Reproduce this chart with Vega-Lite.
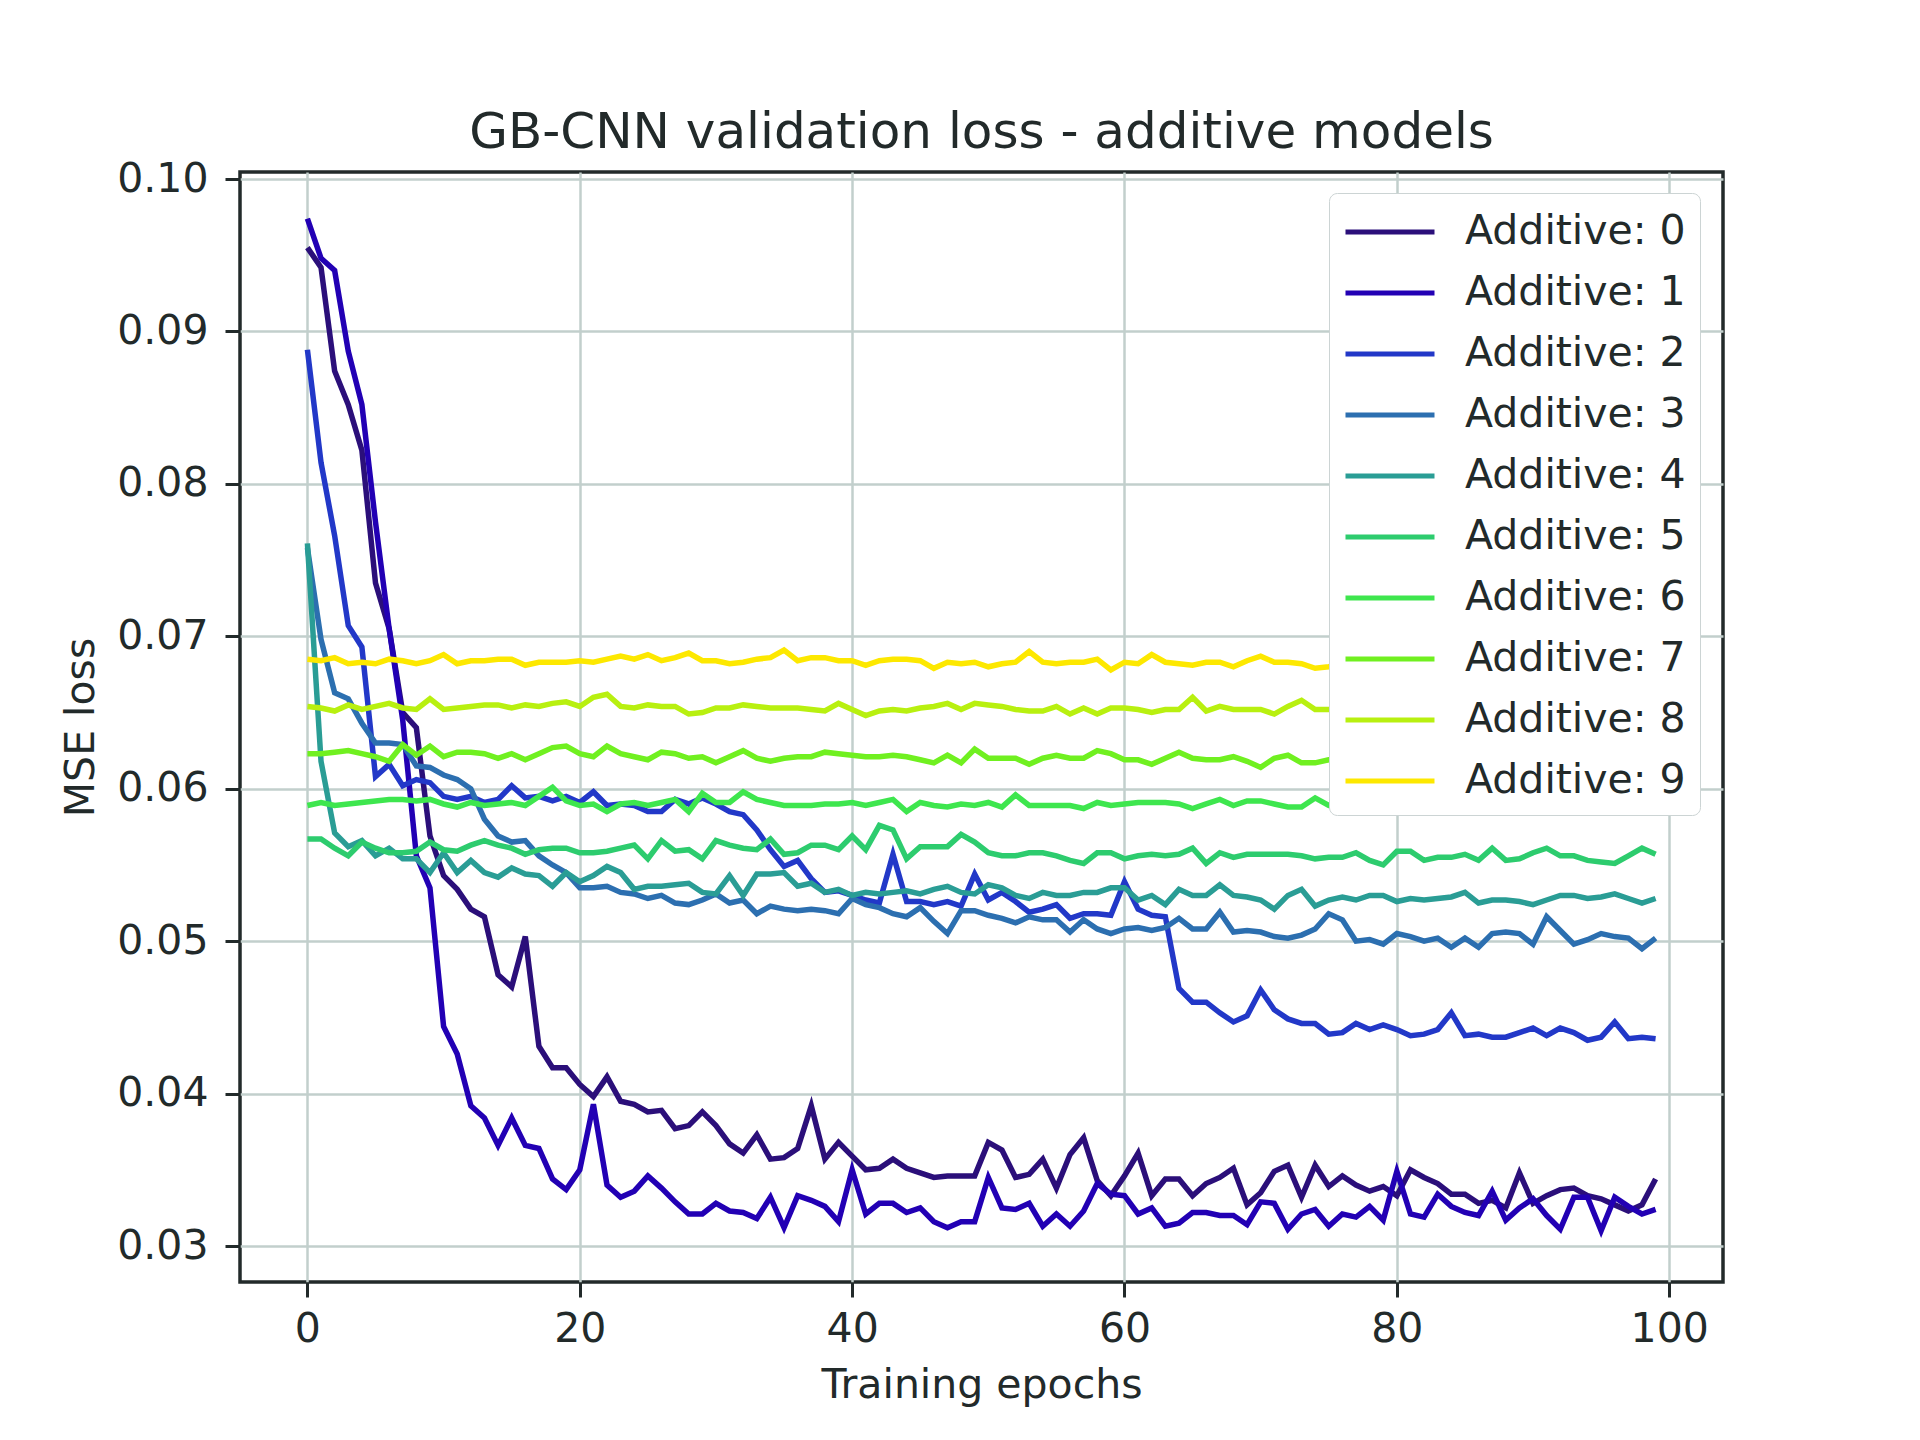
{
"$schema":"https://vega.github.io/schema/vega-lite/v6.json",
"width":1483,"height":1110,
"autosize":{"type":"none"},
"padding":{"left":240,"top":172,"right":197,"bottom":158},
"background":"white",
"title":{"text":"GB-CNN validation loss - additive models","fontSize":50,"font":"DejaVu Sans","fontWeight":"normal","color":"#222a2a","anchor":"middle","offset":27,"baseline":"alphabetic","dy":67},
"config":{
"view":{"stroke":"#222a2a","strokeWidth":3.5},
"axis":{"domain":false,"grid":true,"gridColor":"#c2cfcc","gridWidth":2.5,"tickColor":"#222a2a","tickWidth":3,"tickSize":15,"labelFont":"DejaVu Sans","labelFontSize":41,"labelColor":"#222a2a","titleFont":"DejaVu Sans","titleFontSize":41,"titleFontWeight":"normal","titleColor":"#222a2a"}
},
"data":{"values":[
{"x":0,"m":0,"y":0.0955},{"x":1,"m":0,"y":0.0942},{"x":2,"m":0,"y":0.0874},{"x":3,"m":0,"y":0.0852},{"x":4,"m":0,"y":0.0822},{"x":5,"m":0,"y":0.0735},{"x":6,"m":0,"y":0.0705},{"x":7,"m":0,"y":0.0650},{"x":8,"m":0,"y":0.0640},{"x":9,"m":0,"y":0.0569},
{"x":10,"m":0,"y":0.0543},{"x":11,"m":0,"y":0.0534},{"x":12,"m":0,"y":0.0521},{"x":13,"m":0,"y":0.0516},{"x":14,"m":0,"y":0.0478},{"x":15,"m":0,"y":0.0470},{"x":16,"m":0,"y":0.0503},{"x":17,"m":0,"y":0.0431},{"x":18,"m":0,"y":0.0417},{"x":19,"m":0,"y":0.0417},
{"x":20,"m":0,"y":0.0406},{"x":21,"m":0,"y":0.0398},{"x":22,"m":0,"y":0.0411},{"x":23,"m":0,"y":0.0395},{"x":24,"m":0,"y":0.0393},{"x":25,"m":0,"y":0.0388},{"x":26,"m":0,"y":0.0389},{"x":27,"m":0,"y":0.0377},{"x":28,"m":0,"y":0.0379},{"x":29,"m":0,"y":0.0388},
{"x":30,"m":0,"y":0.0379},{"x":31,"m":0,"y":0.0367},{"x":32,"m":0,"y":0.0361},{"x":33,"m":0,"y":0.0373},{"x":34,"m":0,"y":0.0357},{"x":35,"m":0,"y":0.0358},{"x":36,"m":0,"y":0.0364},{"x":37,"m":0,"y":0.0392},{"x":38,"m":0,"y":0.0357},{"x":39,"m":0,"y":0.0368},
{"x":40,"m":0,"y":0.0359},{"x":41,"m":0,"y":0.0350},{"x":42,"m":0,"y":0.0351},{"x":43,"m":0,"y":0.0357},{"x":44,"m":0,"y":0.0351},{"x":45,"m":0,"y":0.0348},{"x":46,"m":0,"y":0.0345},{"x":47,"m":0,"y":0.0346},{"x":48,"m":0,"y":0.0346},{"x":49,"m":0,"y":0.0346},
{"x":50,"m":0,"y":0.0368},{"x":51,"m":0,"y":0.0363},{"x":52,"m":0,"y":0.0345},{"x":53,"m":0,"y":0.0347},{"x":54,"m":0,"y":0.0357},{"x":55,"m":0,"y":0.0338},{"x":56,"m":0,"y":0.0360},{"x":57,"m":0,"y":0.0371},{"x":58,"m":0,"y":0.0343},{"x":59,"m":0,"y":0.0333},
{"x":60,"m":0,"y":0.0346},{"x":61,"m":0,"y":0.0361},{"x":62,"m":0,"y":0.0333},{"x":63,"m":0,"y":0.0344},{"x":64,"m":0,"y":0.0344},{"x":65,"m":0,"y":0.0333},{"x":66,"m":0,"y":0.0341},{"x":67,"m":0,"y":0.0345},{"x":68,"m":0,"y":0.0351},{"x":69,"m":0,"y":0.0327},
{"x":70,"m":0,"y":0.0335},{"x":71,"m":0,"y":0.0349},{"x":72,"m":0,"y":0.0353},{"x":73,"m":0,"y":0.0332},{"x":74,"m":0,"y":0.0353},{"x":75,"m":0,"y":0.0339},{"x":76,"m":0,"y":0.0346},{"x":77,"m":0,"y":0.0340},{"x":78,"m":0,"y":0.0336},{"x":79,"m":0,"y":0.0339},
{"x":80,"m":0,"y":0.0333},{"x":81,"m":0,"y":0.0350},{"x":82,"m":0,"y":0.0345},{"x":83,"m":0,"y":0.0341},{"x":84,"m":0,"y":0.0334},{"x":85,"m":0,"y":0.0334},{"x":86,"m":0,"y":0.0328},{"x":87,"m":0,"y":0.0330},{"x":88,"m":0,"y":0.0325},{"x":89,"m":0,"y":0.0348},
{"x":90,"m":0,"y":0.0328},{"x":91,"m":0,"y":0.0333},{"x":92,"m":0,"y":0.0337},{"x":93,"m":0,"y":0.0338},{"x":94,"m":0,"y":0.0333},{"x":95,"m":0,"y":0.0331},{"x":96,"m":0,"y":0.0327},{"x":97,"m":0,"y":0.0323},{"x":98,"m":0,"y":0.0327},{"x":99,"m":0,"y":0.0344},
{"x":0,"m":1,"y":0.0974},{"x":1,"m":1,"y":0.0948},{"x":2,"m":1,"y":0.0940},{"x":3,"m":1,"y":0.0887},{"x":4,"m":1,"y":0.0852},{"x":5,"m":1,"y":0.0775},{"x":6,"m":1,"y":0.0705},{"x":7,"m":1,"y":0.0645},{"x":8,"m":1,"y":0.0556},{"x":9,"m":1,"y":0.0535},
{"x":10,"m":1,"y":0.0444},{"x":11,"m":1,"y":0.0426},{"x":12,"m":1,"y":0.0392},{"x":13,"m":1,"y":0.0384},{"x":14,"m":1,"y":0.0366},{"x":15,"m":1,"y":0.0384},{"x":16,"m":1,"y":0.0366},{"x":17,"m":1,"y":0.0364},{"x":18,"m":1,"y":0.0344},{"x":19,"m":1,"y":0.0337},
{"x":20,"m":1,"y":0.0350},{"x":21,"m":1,"y":0.0393},{"x":22,"m":1,"y":0.0340},{"x":23,"m":1,"y":0.0332},{"x":24,"m":1,"y":0.0336},{"x":25,"m":1,"y":0.0346},{"x":26,"m":1,"y":0.0338},{"x":27,"m":1,"y":0.0329},{"x":28,"m":1,"y":0.0321},{"x":29,"m":1,"y":0.0321},
{"x":30,"m":1,"y":0.0328},{"x":31,"m":1,"y":0.0323},{"x":32,"m":1,"y":0.0322},{"x":33,"m":1,"y":0.0318},{"x":34,"m":1,"y":0.0332},{"x":35,"m":1,"y":0.0312},{"x":36,"m":1,"y":0.0333},{"x":37,"m":1,"y":0.0330},{"x":38,"m":1,"y":0.0326},{"x":39,"m":1,"y":0.0316},
{"x":40,"m":1,"y":0.0350},{"x":41,"m":1,"y":0.0321},{"x":42,"m":1,"y":0.0328},{"x":43,"m":1,"y":0.0328},{"x":44,"m":1,"y":0.0322},{"x":45,"m":1,"y":0.0325},{"x":46,"m":1,"y":0.0316},{"x":47,"m":1,"y":0.0312},{"x":48,"m":1,"y":0.0316},{"x":49,"m":1,"y":0.0316},
{"x":50,"m":1,"y":0.0345},{"x":51,"m":1,"y":0.0325},{"x":52,"m":1,"y":0.0324},{"x":53,"m":1,"y":0.0328},{"x":54,"m":1,"y":0.0313},{"x":55,"m":1,"y":0.0321},{"x":56,"m":1,"y":0.0313},{"x":57,"m":1,"y":0.0323},{"x":58,"m":1,"y":0.0341},{"x":59,"m":1,"y":0.0334},
{"x":60,"m":1,"y":0.0333},{"x":61,"m":1,"y":0.0321},{"x":62,"m":1,"y":0.0325},{"x":63,"m":1,"y":0.0313},{"x":64,"m":1,"y":0.0315},{"x":65,"m":1,"y":0.0322},{"x":66,"m":1,"y":0.0322},{"x":67,"m":1,"y":0.0320},{"x":68,"m":1,"y":0.0320},{"x":69,"m":1,"y":0.0314},
{"x":70,"m":1,"y":0.0329},{"x":71,"m":1,"y":0.0328},{"x":72,"m":1,"y":0.0311},{"x":73,"m":1,"y":0.0321},{"x":74,"m":1,"y":0.0324},{"x":75,"m":1,"y":0.0313},{"x":76,"m":1,"y":0.0321},{"x":77,"m":1,"y":0.0319},{"x":78,"m":1,"y":0.0326},{"x":79,"m":1,"y":0.0317},
{"x":80,"m":1,"y":0.0349},{"x":81,"m":1,"y":0.0321},{"x":82,"m":1,"y":0.0319},{"x":83,"m":1,"y":0.0334},{"x":84,"m":1,"y":0.0326},{"x":85,"m":1,"y":0.0322},{"x":86,"m":1,"y":0.0320},{"x":87,"m":1,"y":0.0336},{"x":88,"m":1,"y":0.0317},{"x":89,"m":1,"y":0.0325},
{"x":90,"m":1,"y":0.0331},{"x":91,"m":1,"y":0.0320},{"x":92,"m":1,"y":0.0311},{"x":93,"m":1,"y":0.0332},{"x":94,"m":1,"y":0.0332},{"x":95,"m":1,"y":0.0310},{"x":96,"m":1,"y":0.0332},{"x":97,"m":1,"y":0.0326},{"x":98,"m":1,"y":0.0321},{"x":99,"m":1,"y":0.0324},
{"x":0,"m":2,"y":0.0888},{"x":1,"m":2,"y":0.0814},{"x":2,"m":2,"y":0.0766},{"x":3,"m":2,"y":0.0707},{"x":4,"m":2,"y":0.0693},{"x":5,"m":2,"y":0.0608},{"x":6,"m":2,"y":0.0616},{"x":7,"m":2,"y":0.0602},{"x":8,"m":2,"y":0.0606},{"x":9,"m":2,"y":0.0604},
{"x":10,"m":2,"y":0.0595},{"x":11,"m":2,"y":0.0593},{"x":12,"m":2,"y":0.0595},{"x":13,"m":2,"y":0.0591},{"x":14,"m":2,"y":0.0593},{"x":15,"m":2,"y":0.0602},{"x":16,"m":2,"y":0.0594},{"x":17,"m":2,"y":0.0595},{"x":18,"m":2,"y":0.0592},{"x":19,"m":2,"y":0.0595},
{"x":20,"m":2,"y":0.0591},{"x":21,"m":2,"y":0.0598},{"x":22,"m":2,"y":0.0589},{"x":23,"m":2,"y":0.0590},{"x":24,"m":2,"y":0.0589},{"x":25,"m":2,"y":0.0585},{"x":26,"m":2,"y":0.0585},{"x":27,"m":2,"y":0.0593},{"x":28,"m":2,"y":0.0590},{"x":29,"m":2,"y":0.0594},
{"x":30,"m":2,"y":0.0590},{"x":31,"m":2,"y":0.0585},{"x":32,"m":2,"y":0.0583},{"x":33,"m":2,"y":0.0573},{"x":34,"m":2,"y":0.0560},{"x":35,"m":2,"y":0.0549},{"x":36,"m":2,"y":0.0553},{"x":37,"m":2,"y":0.0541},{"x":38,"m":2,"y":0.0532},{"x":39,"m":2,"y":0.0533},
{"x":40,"m":2,"y":0.0530},{"x":41,"m":2,"y":0.0527},{"x":42,"m":2,"y":0.0525},{"x":43,"m":2,"y":0.0557},{"x":44,"m":2,"y":0.0526},{"x":45,"m":2,"y":0.0526},{"x":46,"m":2,"y":0.0524},{"x":47,"m":2,"y":0.0526},{"x":48,"m":2,"y":0.0523},{"x":49,"m":2,"y":0.0544},
{"x":50,"m":2,"y":0.0527},{"x":51,"m":2,"y":0.0532},{"x":52,"m":2,"y":0.0526},{"x":53,"m":2,"y":0.0519},{"x":54,"m":2,"y":0.0521},{"x":55,"m":2,"y":0.0524},{"x":56,"m":2,"y":0.0515},{"x":57,"m":2,"y":0.0518},{"x":58,"m":2,"y":0.0518},{"x":59,"m":2,"y":0.0517},
{"x":60,"m":2,"y":0.0539},{"x":61,"m":2,"y":0.0521},{"x":62,"m":2,"y":0.0517},{"x":63,"m":2,"y":0.0516},{"x":64,"m":2,"y":0.0469},{"x":65,"m":2,"y":0.0460},{"x":66,"m":2,"y":0.0460},{"x":67,"m":2,"y":0.0453},{"x":68,"m":2,"y":0.0447},{"x":69,"m":2,"y":0.0451},
{"x":70,"m":2,"y":0.0468},{"x":71,"m":2,"y":0.0455},{"x":72,"m":2,"y":0.0449},{"x":73,"m":2,"y":0.0446},{"x":74,"m":2,"y":0.0446},{"x":75,"m":2,"y":0.0439},{"x":76,"m":2,"y":0.0440},{"x":77,"m":2,"y":0.0446},{"x":78,"m":2,"y":0.0442},{"x":79,"m":2,"y":0.0445},
{"x":80,"m":2,"y":0.0442},{"x":81,"m":2,"y":0.0438},{"x":82,"m":2,"y":0.0439},{"x":83,"m":2,"y":0.0442},{"x":84,"m":2,"y":0.0453},{"x":85,"m":2,"y":0.0438},{"x":86,"m":2,"y":0.0439},{"x":87,"m":2,"y":0.0437},{"x":88,"m":2,"y":0.0437},{"x":89,"m":2,"y":0.0440},
{"x":90,"m":2,"y":0.0443},{"x":91,"m":2,"y":0.0438},{"x":92,"m":2,"y":0.0443},{"x":93,"m":2,"y":0.0440},{"x":94,"m":2,"y":0.0435},{"x":95,"m":2,"y":0.0437},{"x":96,"m":2,"y":0.0447},{"x":97,"m":2,"y":0.0436},{"x":98,"m":2,"y":0.0437},{"x":99,"m":2,"y":0.0436},
{"x":0,"m":3,"y":0.0758},{"x":1,"m":3,"y":0.0698},{"x":2,"m":3,"y":0.0663},{"x":3,"m":3,"y":0.0659},{"x":4,"m":3,"y":0.0643},{"x":5,"m":3,"y":0.0630},{"x":6,"m":3,"y":0.0630},{"x":7,"m":3,"y":0.0629},{"x":8,"m":3,"y":0.0615},{"x":9,"m":3,"y":0.0614},
{"x":10,"m":3,"y":0.0609},{"x":11,"m":3,"y":0.0606},{"x":12,"m":3,"y":0.0600},{"x":13,"m":3,"y":0.0580},{"x":14,"m":3,"y":0.0569},{"x":15,"m":3,"y":0.0565},{"x":16,"m":3,"y":0.0566},{"x":17,"m":3,"y":0.0556},{"x":18,"m":3,"y":0.0550},{"x":19,"m":3,"y":0.0545},
{"x":20,"m":3,"y":0.0535},{"x":21,"m":3,"y":0.0535},{"x":22,"m":3,"y":0.0536},{"x":23,"m":3,"y":0.0532},{"x":24,"m":3,"y":0.0531},{"x":25,"m":3,"y":0.0528},{"x":26,"m":3,"y":0.0530},{"x":27,"m":3,"y":0.0525},{"x":28,"m":3,"y":0.0524},{"x":29,"m":3,"y":0.0527},
{"x":30,"m":3,"y":0.0531},{"x":31,"m":3,"y":0.0525},{"x":32,"m":3,"y":0.0527},{"x":33,"m":3,"y":0.0518},{"x":34,"m":3,"y":0.0523},{"x":35,"m":3,"y":0.0521},{"x":36,"m":3,"y":0.0520},{"x":37,"m":3,"y":0.0521},{"x":38,"m":3,"y":0.0520},{"x":39,"m":3,"y":0.0518},
{"x":40,"m":3,"y":0.0528},{"x":41,"m":3,"y":0.0524},{"x":42,"m":3,"y":0.0522},{"x":43,"m":3,"y":0.0518},{"x":44,"m":3,"y":0.0516},{"x":45,"m":3,"y":0.0522},{"x":46,"m":3,"y":0.0513},{"x":47,"m":3,"y":0.0505},{"x":48,"m":3,"y":0.0520},{"x":49,"m":3,"y":0.0520},
{"x":50,"m":3,"y":0.0517},{"x":51,"m":3,"y":0.0515},{"x":52,"m":3,"y":0.0512},{"x":53,"m":3,"y":0.0516},{"x":54,"m":3,"y":0.0514},{"x":55,"m":3,"y":0.0514},{"x":56,"m":3,"y":0.0506},{"x":57,"m":3,"y":0.0514},{"x":58,"m":3,"y":0.0508},{"x":59,"m":3,"y":0.0505},
{"x":60,"m":3,"y":0.0508},{"x":61,"m":3,"y":0.0509},{"x":62,"m":3,"y":0.0507},{"x":63,"m":3,"y":0.0509},{"x":64,"m":3,"y":0.0515},{"x":65,"m":3,"y":0.0508},{"x":66,"m":3,"y":0.0508},{"x":67,"m":3,"y":0.0519},{"x":68,"m":3,"y":0.0506},{"x":69,"m":3,"y":0.0507},
{"x":70,"m":3,"y":0.0506},{"x":71,"m":3,"y":0.0503},{"x":72,"m":3,"y":0.0502},{"x":73,"m":3,"y":0.0504},{"x":74,"m":3,"y":0.0508},{"x":75,"m":3,"y":0.0518},{"x":76,"m":3,"y":0.0514},{"x":77,"m":3,"y":0.0500},{"x":78,"m":3,"y":0.0501},{"x":79,"m":3,"y":0.0498},
{"x":80,"m":3,"y":0.0505},{"x":81,"m":3,"y":0.0503},{"x":82,"m":3,"y":0.0500},{"x":83,"m":3,"y":0.0502},{"x":84,"m":3,"y":0.0496},{"x":85,"m":3,"y":0.0502},{"x":86,"m":3,"y":0.0496},{"x":87,"m":3,"y":0.0505},{"x":88,"m":3,"y":0.0506},{"x":89,"m":3,"y":0.0505},
{"x":90,"m":3,"y":0.0498},{"x":91,"m":3,"y":0.0516},{"x":92,"m":3,"y":0.0507},{"x":93,"m":3,"y":0.0498},{"x":94,"m":3,"y":0.0501},{"x":95,"m":3,"y":0.0505},{"x":96,"m":3,"y":0.0503},{"x":97,"m":3,"y":0.0502},{"x":98,"m":3,"y":0.0495},{"x":99,"m":3,"y":0.0502},
{"x":0,"m":4,"y":0.0761},{"x":1,"m":4,"y":0.0618},{"x":2,"m":4,"y":0.0571},{"x":3,"m":4,"y":0.0562},{"x":4,"m":4,"y":0.0566},{"x":5,"m":4,"y":0.0556},{"x":6,"m":4,"y":0.0561},{"x":7,"m":4,"y":0.0554},{"x":8,"m":4,"y":0.0554},{"x":9,"m":4,"y":0.0545},
{"x":10,"m":4,"y":0.0558},{"x":11,"m":4,"y":0.0545},{"x":12,"m":4,"y":0.0553},{"x":13,"m":4,"y":0.0545},{"x":14,"m":4,"y":0.0542},{"x":15,"m":4,"y":0.0548},{"x":16,"m":4,"y":0.0544},{"x":17,"m":4,"y":0.0543},{"x":18,"m":4,"y":0.0536},{"x":19,"m":4,"y":0.0545},
{"x":20,"m":4,"y":0.0539},{"x":21,"m":4,"y":0.0543},{"x":22,"m":4,"y":0.0549},{"x":23,"m":4,"y":0.0545},{"x":24,"m":4,"y":0.0534},{"x":25,"m":4,"y":0.0536},{"x":26,"m":4,"y":0.0536},{"x":27,"m":4,"y":0.0537},{"x":28,"m":4,"y":0.0538},{"x":29,"m":4,"y":0.0532},
{"x":30,"m":4,"y":0.0531},{"x":31,"m":4,"y":0.0543},{"x":32,"m":4,"y":0.0530},{"x":33,"m":4,"y":0.0544},{"x":34,"m":4,"y":0.0544},{"x":35,"m":4,"y":0.0545},{"x":36,"m":4,"y":0.0536},{"x":37,"m":4,"y":0.0538},{"x":38,"m":4,"y":0.0532},{"x":39,"m":4,"y":0.0534},
{"x":40,"m":4,"y":0.0530},{"x":41,"m":4,"y":0.0532},{"x":42,"m":4,"y":0.0531},{"x":43,"m":4,"y":0.0532},{"x":44,"m":4,"y":0.0533},{"x":45,"m":4,"y":0.0531},{"x":46,"m":4,"y":0.0534},{"x":47,"m":4,"y":0.0536},{"x":48,"m":4,"y":0.0532},{"x":49,"m":4,"y":0.0531},
{"x":50,"m":4,"y":0.0537},{"x":51,"m":4,"y":0.0535},{"x":52,"m":4,"y":0.0530},{"x":53,"m":4,"y":0.0528},{"x":54,"m":4,"y":0.0532},{"x":55,"m":4,"y":0.0530},{"x":56,"m":4,"y":0.0530},{"x":57,"m":4,"y":0.0532},{"x":58,"m":4,"y":0.0532},{"x":59,"m":4,"y":0.0535},
{"x":60,"m":4,"y":0.0535},{"x":61,"m":4,"y":0.0527},{"x":62,"m":4,"y":0.0530},{"x":63,"m":4,"y":0.0524},{"x":64,"m":4,"y":0.0534},{"x":65,"m":4,"y":0.0530},{"x":66,"m":4,"y":0.0530},{"x":67,"m":4,"y":0.0537},{"x":68,"m":4,"y":0.0530},{"x":69,"m":4,"y":0.0529},
{"x":70,"m":4,"y":0.0527},{"x":71,"m":4,"y":0.0521},{"x":72,"m":4,"y":0.0530},{"x":73,"m":4,"y":0.0534},{"x":74,"m":4,"y":0.0523},{"x":75,"m":4,"y":0.0527},{"x":76,"m":4,"y":0.0529},{"x":77,"m":4,"y":0.0527},{"x":78,"m":4,"y":0.0530},{"x":79,"m":4,"y":0.0530},
{"x":80,"m":4,"y":0.0526},{"x":81,"m":4,"y":0.0528},{"x":82,"m":4,"y":0.0527},{"x":83,"m":4,"y":0.0528},{"x":84,"m":4,"y":0.0529},{"x":85,"m":4,"y":0.0532},{"x":86,"m":4,"y":0.0525},{"x":87,"m":4,"y":0.0527},{"x":88,"m":4,"y":0.0527},{"x":89,"m":4,"y":0.0526},
{"x":90,"m":4,"y":0.0524},{"x":91,"m":4,"y":0.0527},{"x":92,"m":4,"y":0.0530},{"x":93,"m":4,"y":0.0530},{"x":94,"m":4,"y":0.0528},{"x":95,"m":4,"y":0.0529},{"x":96,"m":4,"y":0.0531},{"x":97,"m":4,"y":0.0528},{"x":98,"m":4,"y":0.0525},{"x":99,"m":4,"y":0.0528},
{"x":0,"m":5,"y":0.0567},{"x":1,"m":5,"y":0.0567},{"x":2,"m":5,"y":0.0561},{"x":3,"m":5,"y":0.0556},{"x":4,"m":5,"y":0.0565},{"x":5,"m":5,"y":0.0561},{"x":6,"m":5,"y":0.0558},{"x":7,"m":5,"y":0.0558},{"x":8,"m":5,"y":0.0559},{"x":9,"m":5,"y":0.0565},
{"x":10,"m":5,"y":0.0560},{"x":11,"m":5,"y":0.0559},{"x":12,"m":5,"y":0.0563},{"x":13,"m":5,"y":0.0566},{"x":14,"m":5,"y":0.0563},{"x":15,"m":5,"y":0.0561},{"x":16,"m":5,"y":0.0557},{"x":17,"m":5,"y":0.0560},{"x":18,"m":5,"y":0.0561},{"x":19,"m":5,"y":0.0561},
{"x":20,"m":5,"y":0.0558},{"x":21,"m":5,"y":0.0558},{"x":22,"m":5,"y":0.0559},{"x":23,"m":5,"y":0.0561},{"x":24,"m":5,"y":0.0563},{"x":25,"m":5,"y":0.0554},{"x":26,"m":5,"y":0.0566},{"x":27,"m":5,"y":0.0559},{"x":28,"m":5,"y":0.0560},{"x":29,"m":5,"y":0.0554},
{"x":30,"m":5,"y":0.0566},{"x":31,"m":5,"y":0.0563},{"x":32,"m":5,"y":0.0561},{"x":33,"m":5,"y":0.0560},{"x":34,"m":5,"y":0.0567},{"x":35,"m":5,"y":0.0557},{"x":36,"m":5,"y":0.0558},{"x":37,"m":5,"y":0.0563},{"x":38,"m":5,"y":0.0563},{"x":39,"m":5,"y":0.0560},
{"x":40,"m":5,"y":0.0569},{"x":41,"m":5,"y":0.0560},{"x":42,"m":5,"y":0.0576},{"x":43,"m":5,"y":0.0573},{"x":44,"m":5,"y":0.0554},{"x":45,"m":5,"y":0.0562},{"x":46,"m":5,"y":0.0562},{"x":47,"m":5,"y":0.0562},{"x":48,"m":5,"y":0.0570},{"x":49,"m":5,"y":0.0565},
{"x":50,"m":5,"y":0.0558},{"x":51,"m":5,"y":0.0556},{"x":52,"m":5,"y":0.0556},{"x":53,"m":5,"y":0.0558},{"x":54,"m":5,"y":0.0558},{"x":55,"m":5,"y":0.0556},{"x":56,"m":5,"y":0.0553},{"x":57,"m":5,"y":0.0551},{"x":58,"m":5,"y":0.0558},{"x":59,"m":5,"y":0.0558},
{"x":60,"m":5,"y":0.0554},{"x":61,"m":5,"y":0.0556},{"x":62,"m":5,"y":0.0557},{"x":63,"m":5,"y":0.0556},{"x":64,"m":5,"y":0.0557},{"x":65,"m":5,"y":0.0561},{"x":66,"m":5,"y":0.0551},{"x":67,"m":5,"y":0.0558},{"x":68,"m":5,"y":0.0555},{"x":69,"m":5,"y":0.0557},
{"x":70,"m":5,"y":0.0557},{"x":71,"m":5,"y":0.0557},{"x":72,"m":5,"y":0.0557},{"x":73,"m":5,"y":0.0556},{"x":74,"m":5,"y":0.0554},{"x":75,"m":5,"y":0.0555},{"x":76,"m":5,"y":0.0555},{"x":77,"m":5,"y":0.0558},{"x":78,"m":5,"y":0.0553},{"x":79,"m":5,"y":0.0550},
{"x":80,"m":5,"y":0.0559},{"x":81,"m":5,"y":0.0559},{"x":82,"m":5,"y":0.0553},{"x":83,"m":5,"y":0.0555},{"x":84,"m":5,"y":0.0555},{"x":85,"m":5,"y":0.0557},{"x":86,"m":5,"y":0.0553},{"x":87,"m":5,"y":0.0561},{"x":88,"m":5,"y":0.0553},{"x":89,"m":5,"y":0.0554},
{"x":90,"m":5,"y":0.0558},{"x":91,"m":5,"y":0.0561},{"x":92,"m":5,"y":0.0556},{"x":93,"m":5,"y":0.0556},{"x":94,"m":5,"y":0.0553},{"x":95,"m":5,"y":0.0552},{"x":96,"m":5,"y":0.0551},{"x":97,"m":5,"y":0.0556},{"x":98,"m":5,"y":0.0561},{"x":99,"m":5,"y":0.0557},
{"x":0,"m":6,"y":0.0589},{"x":1,"m":6,"y":0.0591},{"x":2,"m":6,"y":0.0589},{"x":3,"m":6,"y":0.0590},{"x":4,"m":6,"y":0.0591},{"x":5,"m":6,"y":0.0592},{"x":6,"m":6,"y":0.0593},{"x":7,"m":6,"y":0.0593},{"x":8,"m":6,"y":0.0592},{"x":9,"m":6,"y":0.0593},
{"x":10,"m":6,"y":0.0590},{"x":11,"m":6,"y":0.0588},{"x":12,"m":6,"y":0.0591},{"x":13,"m":6,"y":0.0589},{"x":14,"m":6,"y":0.0590},{"x":15,"m":6,"y":0.0591},{"x":16,"m":6,"y":0.0589},{"x":17,"m":6,"y":0.0595},{"x":18,"m":6,"y":0.0601},{"x":19,"m":6,"y":0.0592},
{"x":20,"m":6,"y":0.0589},{"x":21,"m":6,"y":0.0590},{"x":22,"m":6,"y":0.0585},{"x":23,"m":6,"y":0.0590},{"x":24,"m":6,"y":0.0591},{"x":25,"m":6,"y":0.0589},{"x":26,"m":6,"y":0.0591},{"x":27,"m":6,"y":0.0593},{"x":28,"m":6,"y":0.0585},{"x":29,"m":6,"y":0.0597},
{"x":30,"m":6,"y":0.0591},{"x":31,"m":6,"y":0.0591},{"x":32,"m":6,"y":0.0598},{"x":33,"m":6,"y":0.0593},{"x":34,"m":6,"y":0.0591},{"x":35,"m":6,"y":0.0589},{"x":36,"m":6,"y":0.0589},{"x":37,"m":6,"y":0.0589},{"x":38,"m":6,"y":0.0590},{"x":39,"m":6,"y":0.0590},
{"x":40,"m":6,"y":0.0591},{"x":41,"m":6,"y":0.0589},{"x":42,"m":6,"y":0.0591},{"x":43,"m":6,"y":0.0593},{"x":44,"m":6,"y":0.0585},{"x":45,"m":6,"y":0.0591},{"x":46,"m":6,"y":0.0589},{"x":47,"m":6,"y":0.0588},{"x":48,"m":6,"y":0.0590},{"x":49,"m":6,"y":0.0589},
{"x":50,"m":6,"y":0.0591},{"x":51,"m":6,"y":0.0588},{"x":52,"m":6,"y":0.0596},{"x":53,"m":6,"y":0.0589},{"x":54,"m":6,"y":0.0589},{"x":55,"m":6,"y":0.0589},{"x":56,"m":6,"y":0.0589},{"x":57,"m":6,"y":0.0587},{"x":58,"m":6,"y":0.0591},{"x":59,"m":6,"y":0.0589},
{"x":60,"m":6,"y":0.0590},{"x":61,"m":6,"y":0.0591},{"x":62,"m":6,"y":0.0591},{"x":63,"m":6,"y":0.0591},{"x":64,"m":6,"y":0.0590},{"x":65,"m":6,"y":0.0587},{"x":66,"m":6,"y":0.0590},{"x":67,"m":6,"y":0.0593},{"x":68,"m":6,"y":0.0589},{"x":69,"m":6,"y":0.0592},
{"x":70,"m":6,"y":0.0592},{"x":71,"m":6,"y":0.0590},{"x":72,"m":6,"y":0.0588},{"x":73,"m":6,"y":0.0588},{"x":74,"m":6,"y":0.0594},{"x":75,"m":6,"y":0.0589},{"x":76,"m":6,"y":0.0590},{"x":77,"m":6,"y":0.0591},{"x":78,"m":6,"y":0.0589},{"x":79,"m":6,"y":0.0590},
{"x":80,"m":6,"y":0.0592},{"x":81,"m":6,"y":0.0590},{"x":82,"m":6,"y":0.0589},{"x":83,"m":6,"y":0.0591},{"x":84,"m":6,"y":0.0590},{"x":85,"m":6,"y":0.0592},{"x":86,"m":6,"y":0.0590},{"x":87,"m":6,"y":0.0589},{"x":88,"m":6,"y":0.0591},{"x":89,"m":6,"y":0.0590},
{"x":90,"m":6,"y":0.0591},{"x":91,"m":6,"y":0.0589},{"x":92,"m":6,"y":0.0590},{"x":93,"m":6,"y":0.0592},{"x":94,"m":6,"y":0.0590},{"x":95,"m":6,"y":0.0589},{"x":96,"m":6,"y":0.0591},{"x":97,"m":6,"y":0.0590},{"x":98,"m":6,"y":0.0590},{"x":99,"m":6,"y":0.0591},
{"x":0,"m":7,"y":0.0623},{"x":1,"m":7,"y":0.0623},{"x":2,"m":7,"y":0.0624},{"x":3,"m":7,"y":0.0625},{"x":4,"m":7,"y":0.0623},{"x":5,"m":7,"y":0.0621},{"x":6,"m":7,"y":0.0618},{"x":7,"m":7,"y":0.0629},{"x":8,"m":7,"y":0.0622},{"x":9,"m":7,"y":0.0628},
{"x":10,"m":7,"y":0.0621},{"x":11,"m":7,"y":0.0624},{"x":12,"m":7,"y":0.0624},{"x":13,"m":7,"y":0.0623},{"x":14,"m":7,"y":0.0620},{"x":15,"m":7,"y":0.0623},{"x":16,"m":7,"y":0.0619},{"x":17,"m":7,"y":0.0623},{"x":18,"m":7,"y":0.0627},{"x":19,"m":7,"y":0.0628},
{"x":20,"m":7,"y":0.0623},{"x":21,"m":7,"y":0.0621},{"x":22,"m":7,"y":0.0628},{"x":23,"m":7,"y":0.0623},{"x":24,"m":7,"y":0.0621},{"x":25,"m":7,"y":0.0619},{"x":26,"m":7,"y":0.0624},{"x":27,"m":7,"y":0.0623},{"x":28,"m":7,"y":0.0620},{"x":29,"m":7,"y":0.0621},
{"x":30,"m":7,"y":0.0617},{"x":31,"m":7,"y":0.0621},{"x":32,"m":7,"y":0.0625},{"x":33,"m":7,"y":0.0620},{"x":34,"m":7,"y":0.0618},{"x":35,"m":7,"y":0.0620},{"x":36,"m":7,"y":0.0621},{"x":37,"m":7,"y":0.0621},{"x":38,"m":7,"y":0.0624},{"x":39,"m":7,"y":0.0623},
{"x":40,"m":7,"y":0.0622},{"x":41,"m":7,"y":0.0621},{"x":42,"m":7,"y":0.0621},{"x":43,"m":7,"y":0.0622},{"x":44,"m":7,"y":0.0621},{"x":45,"m":7,"y":0.0619},{"x":46,"m":7,"y":0.0617},{"x":47,"m":7,"y":0.0622},{"x":48,"m":7,"y":0.0617},{"x":49,"m":7,"y":0.0626},
{"x":50,"m":7,"y":0.0620},{"x":51,"m":7,"y":0.0620},{"x":52,"m":7,"y":0.0620},{"x":53,"m":7,"y":0.0616},{"x":54,"m":7,"y":0.0620},{"x":55,"m":7,"y":0.0622},{"x":56,"m":7,"y":0.0620},{"x":57,"m":7,"y":0.0620},{"x":58,"m":7,"y":0.0625},{"x":59,"m":7,"y":0.0623},
{"x":60,"m":7,"y":0.0619},{"x":61,"m":7,"y":0.0619},{"x":62,"m":7,"y":0.0616},{"x":63,"m":7,"y":0.0620},{"x":64,"m":7,"y":0.0624},{"x":65,"m":7,"y":0.0620},{"x":66,"m":7,"y":0.0619},{"x":67,"m":7,"y":0.0619},{"x":68,"m":7,"y":0.0621},{"x":69,"m":7,"y":0.0618},
{"x":70,"m":7,"y":0.0614},{"x":71,"m":7,"y":0.0620},{"x":72,"m":7,"y":0.0622},{"x":73,"m":7,"y":0.0617},{"x":74,"m":7,"y":0.0617},{"x":75,"m":7,"y":0.0619},{"x":76,"m":7,"y":0.0620},{"x":77,"m":7,"y":0.0622},{"x":78,"m":7,"y":0.0619},{"x":79,"m":7,"y":0.0621},
{"x":80,"m":7,"y":0.0620},{"x":81,"m":7,"y":0.0618},{"x":82,"m":7,"y":0.0621},{"x":83,"m":7,"y":0.0620},{"x":84,"m":7,"y":0.0622},{"x":85,"m":7,"y":0.0619},{"x":86,"m":7,"y":0.0620},{"x":87,"m":7,"y":0.0621},{"x":88,"m":7,"y":0.0619},{"x":89,"m":7,"y":0.0620},
{"x":90,"m":7,"y":0.0622},{"x":91,"m":7,"y":0.0620},{"x":92,"m":7,"y":0.0619},{"x":93,"m":7,"y":0.0621},{"x":94,"m":7,"y":0.0620},{"x":95,"m":7,"y":0.0618},{"x":96,"m":7,"y":0.0620},{"x":97,"m":7,"y":0.0621},{"x":98,"m":7,"y":0.0619},{"x":99,"m":7,"y":0.0620},
{"x":0,"m":8,"y":0.0654},{"x":1,"m":8,"y":0.0653},{"x":2,"m":8,"y":0.0651},{"x":3,"m":8,"y":0.0655},{"x":4,"m":8,"y":0.0652},{"x":5,"m":8,"y":0.0654},{"x":6,"m":8,"y":0.0656},{"x":7,"m":8,"y":0.0653},{"x":8,"m":8,"y":0.0652},{"x":9,"m":8,"y":0.0659},
{"x":10,"m":8,"y":0.0652},{"x":11,"m":8,"y":0.0653},{"x":12,"m":8,"y":0.0654},{"x":13,"m":8,"y":0.0655},{"x":14,"m":8,"y":0.0655},{"x":15,"m":8,"y":0.0653},{"x":16,"m":8,"y":0.0655},{"x":17,"m":8,"y":0.0654},{"x":18,"m":8,"y":0.0656},{"x":19,"m":8,"y":0.0657},
{"x":20,"m":8,"y":0.0654},{"x":21,"m":8,"y":0.0660},{"x":22,"m":8,"y":0.0662},{"x":23,"m":8,"y":0.0654},{"x":24,"m":8,"y":0.0653},{"x":25,"m":8,"y":0.0655},{"x":26,"m":8,"y":0.0654},{"x":27,"m":8,"y":0.0654},{"x":28,"m":8,"y":0.0649},{"x":29,"m":8,"y":0.0650},
{"x":30,"m":8,"y":0.0653},{"x":31,"m":8,"y":0.0653},{"x":32,"m":8,"y":0.0655},{"x":33,"m":8,"y":0.0654},{"x":34,"m":8,"y":0.0653},{"x":35,"m":8,"y":0.0653},{"x":36,"m":8,"y":0.0653},{"x":37,"m":8,"y":0.0652},{"x":38,"m":8,"y":0.0651},{"x":39,"m":8,"y":0.0656},
{"x":40,"m":8,"y":0.0652},{"x":41,"m":8,"y":0.0648},{"x":42,"m":8,"y":0.0651},{"x":43,"m":8,"y":0.0652},{"x":44,"m":8,"y":0.0651},{"x":45,"m":8,"y":0.0653},{"x":46,"m":8,"y":0.0654},{"x":47,"m":8,"y":0.0656},{"x":48,"m":8,"y":0.0652},{"x":49,"m":8,"y":0.0656},
{"x":50,"m":8,"y":0.0655},{"x":51,"m":8,"y":0.0654},{"x":52,"m":8,"y":0.0652},{"x":53,"m":8,"y":0.0651},{"x":54,"m":8,"y":0.0651},{"x":55,"m":8,"y":0.0654},{"x":56,"m":8,"y":0.0649},{"x":57,"m":8,"y":0.0653},{"x":58,"m":8,"y":0.0649},{"x":59,"m":8,"y":0.0653},
{"x":60,"m":8,"y":0.0653},{"x":61,"m":8,"y":0.0652},{"x":62,"m":8,"y":0.0650},{"x":63,"m":8,"y":0.0652},{"x":64,"m":8,"y":0.0652},{"x":65,"m":8,"y":0.0660},{"x":66,"m":8,"y":0.0651},{"x":67,"m":8,"y":0.0654},{"x":68,"m":8,"y":0.0652},{"x":69,"m":8,"y":0.0652},
{"x":70,"m":8,"y":0.0652},{"x":71,"m":8,"y":0.0649},{"x":72,"m":8,"y":0.0654},{"x":73,"m":8,"y":0.0658},{"x":74,"m":8,"y":0.0652},{"x":75,"m":8,"y":0.0652},{"x":76,"m":8,"y":0.0653},{"x":77,"m":8,"y":0.0651},{"x":78,"m":8,"y":0.0654},{"x":79,"m":8,"y":0.0652},
{"x":80,"m":8,"y":0.0653},{"x":81,"m":8,"y":0.0651},{"x":82,"m":8,"y":0.0652},{"x":83,"m":8,"y":0.0654},{"x":84,"m":8,"y":0.0652},{"x":85,"m":8,"y":0.0653},{"x":86,"m":8,"y":0.0651},{"x":87,"m":8,"y":0.0652},{"x":88,"m":8,"y":0.0654},{"x":89,"m":8,"y":0.0652},
{"x":90,"m":8,"y":0.0653},{"x":91,"m":8,"y":0.0651},{"x":92,"m":8,"y":0.0652},{"x":93,"m":8,"y":0.0653},{"x":94,"m":8,"y":0.0652},{"x":95,"m":8,"y":0.0654},{"x":96,"m":8,"y":0.0651},{"x":97,"m":8,"y":0.0652},{"x":98,"m":8,"y":0.0653},{"x":99,"m":8,"y":0.0652},
{"x":0,"m":9,"y":0.0685},{"x":1,"m":9,"y":0.0684},{"x":2,"m":9,"y":0.0686},{"x":3,"m":9,"y":0.0682},{"x":4,"m":9,"y":0.0683},{"x":5,"m":9,"y":0.0682},{"x":6,"m":9,"y":0.0685},{"x":7,"m":9,"y":0.0684},{"x":8,"m":9,"y":0.0682},{"x":9,"m":9,"y":0.0684},
{"x":10,"m":9,"y":0.0688},{"x":11,"m":9,"y":0.0682},{"x":12,"m":9,"y":0.0684},{"x":13,"m":9,"y":0.0684},{"x":14,"m":9,"y":0.0685},{"x":15,"m":9,"y":0.0685},{"x":16,"m":9,"y":0.0681},{"x":17,"m":9,"y":0.0683},{"x":18,"m":9,"y":0.0683},{"x":19,"m":9,"y":0.0683},
{"x":20,"m":9,"y":0.0684},{"x":21,"m":9,"y":0.0683},{"x":22,"m":9,"y":0.0685},{"x":23,"m":9,"y":0.0687},{"x":24,"m":9,"y":0.0685},{"x":25,"m":9,"y":0.0688},{"x":26,"m":9,"y":0.0684},{"x":27,"m":9,"y":0.0686},{"x":28,"m":9,"y":0.0689},{"x":29,"m":9,"y":0.0684},
{"x":30,"m":9,"y":0.0684},{"x":31,"m":9,"y":0.0682},{"x":32,"m":9,"y":0.0683},{"x":33,"m":9,"y":0.0685},{"x":34,"m":9,"y":0.0686},{"x":35,"m":9,"y":0.0691},{"x":36,"m":9,"y":0.0684},{"x":37,"m":9,"y":0.0686},{"x":38,"m":9,"y":0.0686},{"x":39,"m":9,"y":0.0684},
{"x":40,"m":9,"y":0.0684},{"x":41,"m":9,"y":0.0681},{"x":42,"m":9,"y":0.0684},{"x":43,"m":9,"y":0.0685},{"x":44,"m":9,"y":0.0685},{"x":45,"m":9,"y":0.0684},{"x":46,"m":9,"y":0.0679},{"x":47,"m":9,"y":0.0683},{"x":48,"m":9,"y":0.0682},{"x":49,"m":9,"y":0.0683},
{"x":50,"m":9,"y":0.0680},{"x":51,"m":9,"y":0.0682},{"x":52,"m":9,"y":0.0683},{"x":53,"m":9,"y":0.0690},{"x":54,"m":9,"y":0.0683},{"x":55,"m":9,"y":0.0682},{"x":56,"m":9,"y":0.0683},{"x":57,"m":9,"y":0.0683},{"x":58,"m":9,"y":0.0685},{"x":59,"m":9,"y":0.0678},
{"x":60,"m":9,"y":0.0683},{"x":61,"m":9,"y":0.0682},{"x":62,"m":9,"y":0.0688},{"x":63,"m":9,"y":0.0683},{"x":64,"m":9,"y":0.0682},{"x":65,"m":9,"y":0.0681},{"x":66,"m":9,"y":0.0683},{"x":67,"m":9,"y":0.0683},{"x":68,"m":9,"y":0.0680},{"x":69,"m":9,"y":0.0684},
{"x":70,"m":9,"y":0.0687},{"x":71,"m":9,"y":0.0683},{"x":72,"m":9,"y":0.0683},{"x":73,"m":9,"y":0.0682},{"x":74,"m":9,"y":0.0679},{"x":75,"m":9,"y":0.0680},{"x":76,"m":9,"y":0.0682},{"x":77,"m":9,"y":0.0684},{"x":78,"m":9,"y":0.0681},{"x":79,"m":9,"y":0.0683},
{"x":80,"m":9,"y":0.0682},{"x":81,"m":9,"y":0.0685},{"x":82,"m":9,"y":0.0681},{"x":83,"m":9,"y":0.0683},{"x":84,"m":9,"y":0.0682},{"x":85,"m":9,"y":0.0680},{"x":86,"m":9,"y":0.0684},{"x":87,"m":9,"y":0.0682},{"x":88,"m":9,"y":0.0683},{"x":89,"m":9,"y":0.0681},
{"x":90,"m":9,"y":0.0684},{"x":91,"m":9,"y":0.0682},{"x":92,"m":9,"y":0.0683},{"x":93,"m":9,"y":0.0680},{"x":94,"m":9,"y":0.0682},{"x":95,"m":9,"y":0.0684},{"x":96,"m":9,"y":0.0681},{"x":97,"m":9,"y":0.0683},{"x":98,"m":9,"y":0.0682},{"x":99,"m":9,"y":0.0681}
]},
"mark":{"type":"line","strokeWidth":5.5,"clip":true},
"encoding":{
"x":{"field":"x","type":"quantitative","scale":{"domain":[-4.95,103.95],"nice":false,"zero":false},"axis":{"values":[0,20,40,60,80,100],"title":"Training epochs","labelPadding":12,"titlePadding":16}},
"y":{"field":"y","type":"quantitative","scale":{"domain":[0.02764,0.10046],"nice":false,"zero":false},"axis":{"values":[0.03,0.04,0.05,0.06,0.07,0.08,0.09,0.10],"format":".2f","title":"MSE loss","labelPadding":17,"titlePadding":14}},
"color":{"field":"m","type":"nominal","scale":{"domain":[0,1,2,3,4,5,6,7,8,9],"range":["#2b0f7a","#2200b4","#2238c8","#2c6fb0","#2a9d95","#2dcc6e","#3ee64e","#70f020","#b8f010","#fde800"]},
"legend":{"title":null,"orient":"none","legendX":1089,"legendY":21,"labelExpr":"'Additive: ' + datum.label","labelLimit":500,"fillColor":"white","strokeColor":"#ccd4d4","cornerRadius":8,"padding":14,"symbolType":"M-2,0H2","symbolSize":1980,"symbolOffset":22,"symbolStrokeWidth":5,"labelFont":"DejaVu Sans","labelFontSize":41,"labelColor":"#222a2a","labelOffset":50,"rowPadding":16}}
}
}
